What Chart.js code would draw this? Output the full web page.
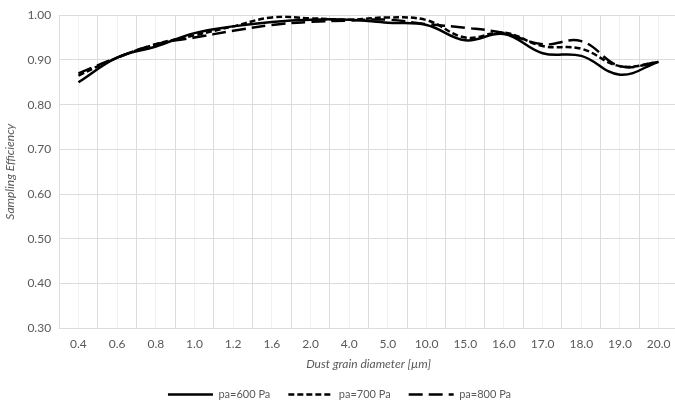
<!DOCTYPE html>
<html lang="en">
<head>
    <meta charset="UTF-8">
    <title>Sampling Efficiency</title>
    <style>
        html, body { margin: 0; padding: 0; overflow: hidden; background: #fff; }
        #wrap { width: 714px; height: 410px; }
    </style>
</head>
<body>
    <div id="wrap">
      <canvas id="myChart"></canvas>
    </div>
</body>
</html>

<script src="https://cdn.jsdelivr.net/npm/chart.js"></script>

<script>
  const ctx = document.getElementById('myChart');

  // grain diameters (um), used as categories
  const diameters = ['0.4', '0.6', '0.8', '1.0', '1.2', '1.6', '2.0', '4.0',
                     '5.0', '10.0', '15.0', '16.0', '17.0', '18.0', '19.0', '20.0'];

  const pa600 = [0.850, 0.905, 0.930, 0.960, 0.975, 0.985, 0.990, 0.990,
                 0.983, 0.978, 0.944, 0.958, 0.915, 0.909, 0.867, 0.896];
  const pa700 = [0.865, 0.905, 0.935, 0.955, 0.975, 0.995, 0.993, 0.990,
                 0.995, 0.989, 0.950, 0.961, 0.931, 0.925, 0.886, 0.895];
  const pa800 = [0.870, 0.905, 0.935, 0.950, 0.965, 0.978, 0.985, 0.988,
                 0.990, 0.980, 0.972, 0.960, 0.935, 0.942, 0.886, 0.895];

  const seriesNames = ['pa=600 Pa', 'pa=700 Pa', 'pa=800 Pa'];

  const gray = '#595959';

  function isMajor(v) {
      return Math.abs(v * 10 - Math.round(v * 10)) < 1e-6;
  }

  function lineSet(label, data, dash) {
      return {
          label: label,
          data: data,
          borderColor: '#000',
          backgroundColor: '#000',
          borderWidth: 2.5,
          borderDash: dash,
          borderCapStyle: 'butt',
          pointRadius: 0,
          tension: 0.4,
          fill: false
      };
  }

  Chart.defaults.font.family = 'Lato, "Open Sans", sans-serif';
  Chart.defaults.color = gray;

  new Chart(ctx, {
      type: 'line',
      data: {
          labels: diameters,
          datasets: [
              lineSet(seriesNames[0], pa600, []),
              lineSet(seriesNames[1], pa700, [6, 3]),
              lineSet(seriesNames[2], pa800, [14, 6])
          ]
      },
      options: {
          responsive: true,
          maintainAspectRatio: false,
          animation: false,
          layout: {
              padding: { top: 8, right: 36, left: 1, bottom: 0 }
          },
          scales: {
              x2: {
                  type: 'category',
                  position: 'bottom',
                  offset: true,
                  ticks: { display: false },
                  grid: { offset: false, color: '#f1f1f1', drawTicks: false },
                  border: { display: false }
              },
              x: {
                  type: 'category',
                  position: 'bottom',
                  offset: true,
                  grid: { offset: true, color: '#dcdcdc', drawTicks: false },
                  border: { display: false },
                  ticks: { font: { size: 12 }, padding: 9, color: gray, maxRotation: 0, autoSkip: false },
                  title: {
                      display: true,
                      text: 'Dust grain diameter [µm]',
                      font: { size: 12, style: 'italic' },
                      color: gray,
                      padding: { top: -4, bottom: 0 }
                  }
              },
              y: {
                  min: 0.3,
                  max: 1.0,
                  ticks: {
                      stepSize: 0.02,
                      font: { size: 12 },
                      color: gray,
                      padding: 8,
                      autoSkip: false,
                      callback: function (v) {
                          return isMajor(v) ? v.toFixed(2) : null;
                      }
                  },
                  grid: {
                      drawTicks: false,
                      color: function (c) {
                          return isMajor(c.tick.value) ? '#dcdcdc' : '#f1f1f1';
                      }
                  },
                  border: { display: false },
                  title: {
                      display: true,
                      text: 'Sampling Efficiency',
                      font: { size: 12, style: 'italic' },
                      color: gray,
                      padding: { top: 2, bottom: 2 }
                  }
              }
          },
          plugins: {
              legend: {
                  position: 'bottom',
                  labels: {
                      usePointStyle: true,
                      pointStyle: 'line',
                      pointStyleWidth: 45,
                      boxWidth: 45,
                      boxHeight: 11,
                      padding: 18,
                      color: gray,
                      font: { size: 11 },
                      generateLabels: function (chart) {
                          const items = Chart.defaults.plugins.legend.labels.generateLabels(chart);
                          items.forEach(function (it) {
                              const ds = chart.data.datasets[it.datasetIndex];
                              it.lineDash = ds.borderDash;
                              it.lineWidth = ds.borderWidth;
                              it.lineCap = 'butt';
                          });
                          return items;
                      }
                  }
              },
              tooltip: { enabled: false }
          }
      }
  });
</script>
